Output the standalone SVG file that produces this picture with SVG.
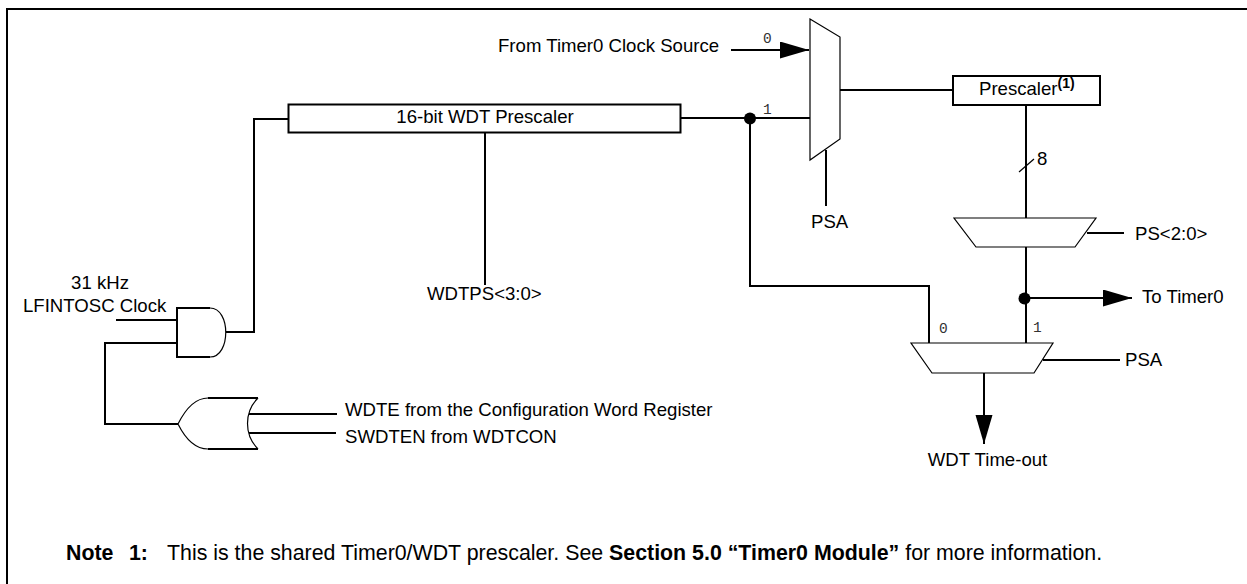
<svg xmlns="http://www.w3.org/2000/svg" width="1247" height="584" viewBox="0 0 1247 584">
<style>
.w{fill:none;stroke:#000;stroke-width:2}
.s{fill:#fff;stroke:#000;stroke-width:1.2}
.b{fill:#fff;stroke:#000;stroke-width:2}
.t{fill:none;stroke:#000;stroke-width:1.2}
text{font-family:"Liberation Sans",Arial,sans-serif;font-size:18.6px;fill:#000}
.n{font-size:21.35px}
.m{font-family:"Liberation Mono",monospace;font-size:14.5px;fill:#333}
.c{text-anchor:middle}
</style>
<defs>
<marker id="ar" markerUnits="userSpaceOnUse" markerWidth="30" markerHeight="18" refX="29" refY="8.500" orient="auto"><path d="M0 0L29 8.500L0 17Z" fill="#000"/></marker>
</defs>
<rect x="0" y="0" width="1247" height="584" fill="#fff"/>
<path id="frame" d="M7 584V9H1247" fill="none" stroke="#000" stroke-width="2"/>
<g id="connectors">
<path class="w" d="M731 50H809" marker-end="url(#ar)"/>
<path class="w" d="M681 118H810"/>
<path class="w" d="M840 90H953"/>
<path class="w" d="M1026 105V218"/>
<path class="t" d="M1019 172L1034 159"/>
<path class="w" d="M826 150V206"/>
<path class="w" d="M1026 247V343"/>
<path class="w" d="M1026 298H1132" marker-end="url(#ar)"/>
<path class="w" d="M750 118V286H929V343"/>
<path class="w" d="M1043 360H1120"/>
<path class="w" d="M984 373V444" marker-end="url(#ar)"/>
<path class="w" d="M1087 233H1124"/>
<path class="w" d="M485 133V285"/>
<path class="w" d="M290 119H254V332H226"/>
<path class="w" d="M116 320H177"/>
<path class="w" d="M177 343H105V424H178"/>
<path class="w" d="M249 414H337"/>
<path class="w" d="M249 433H336"/>
</g>
<g id="wdt-prescaler"><rect class="b" x="288.500" y="104.500" width="392" height="28"/><text class="c" x="485" y="123">16-bit WDT Prescaler</text></g>
<g id="prescaler"><rect class="b" x="953" y="76" width="147" height="29"/><text x="979" y="95">Prescaler<tspan font-weight="bold" font-size="14" dy="-7">(1)</tspan></text></g>
<g id="mux-top"><path class="s" d="M810 19L840 37V139L810 160Z"/></g>
<g id="mux-ps"><path class="s" d="M954 218H1096L1075 247H976Z"/></g>
<g id="mux-bottom"><path class="s" d="M911 343H1053L1034 373H932Z"/></g>
<g id="and-gate"><path class="w" d="M210 308H177V357H210"/><path class="t" d="M210 308C231 308 231 357 210 357"/></g>
<g id="or-gate"><path class="t" d="M178 424C186 408 195 398 208 398M178 424C186 440 195 449 208 449M258 398C244 412 244 435 258 449"/><path class="w" d="M208 398H258M208 449H258"/></g>
<g id="dots"><circle cx="750" cy="118.500" r="6"/><circle cx="1024.500" cy="298.500" r="6"/></g>
<g id="labels">
<text x="498" y="52">From Timer0 Clock Source</text>
<text class="m" x="763" y="43">0</text>
<text class="m" x="763" y="114">1</text>
<text class="m" x="939" y="333">0</text>
<text class="m" x="1033" y="332">1</text>
<text x="811" y="228">PSA</text>
<text x="1037" y="165">8</text>
<text x="1135" y="240">PS&lt;2:0&gt;</text>
<text x="1142" y="303">To Timer0</text>
<text x="1125" y="366">PSA</text>
<text class="c" x="987.500" y="466">WDT Time-out</text>
<text x="427" y="300">WDTPS&lt;3:0&gt;</text>
<text class="c" x="100" y="289">31 kHz</text>
<text x="23" y="312">LFINTOSC Clock</text>
<text x="345" y="416">WDTE from the Configuration Word Register</text>
<text x="345" y="443">SWDTEN from WDTCON</text>
<text class="n" x="66" y="560" font-weight="bold">Note</text>
<text class="n" x="129" y="560" font-weight="bold">1:</text>
<text class="n" x="167" y="560">This is the shared Timer0/WDT prescaler. See <tspan font-weight="bold">Section 5.0 “Timer0 Module”</tspan> for more information.</text>
</g>
</svg>
